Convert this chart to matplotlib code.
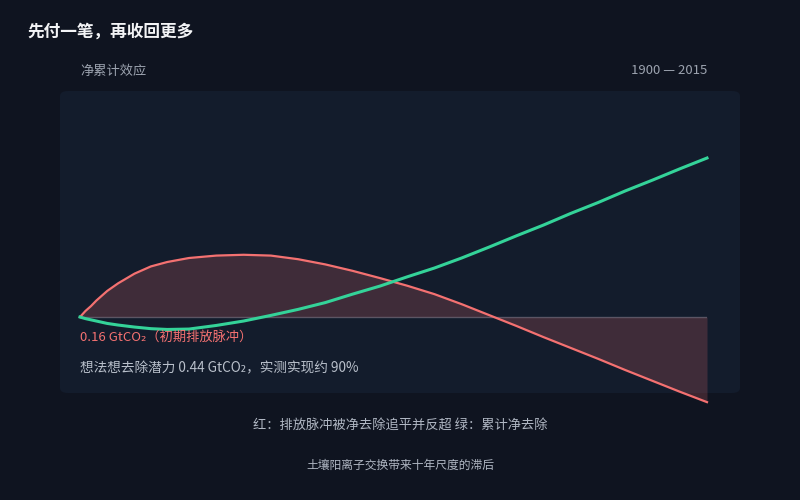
import numpy as np
import matplotlib.pyplot as plt
from matplotlib.patches import FancyBboxPatch

plt.rcParams['font.family'] = ['Noto Sans CJK SC', 'DejaVu Sans']

# data (GtCO2)
years = [1900, 1901, 1902, 1903, 1905, 1907, 1910, 1913, 1916, 1920, 1925, 1930, 1935, 1940,
         1945, 1950, 1955, 1960, 1965, 1970, 1975, 1980, 1985, 1990, 1995, 2000, 2005, 2010, 2015]
net_pulse = [0.0, 0.015, 0.027, 0.041, 0.065, 0.084, 0.108, 0.126, 0.137, 0.147, 0.153, 0.155,
             0.153, 0.144, 0.131, 0.115, 0.097, 0.078, 0.057, 0.032, 0.005, -0.022, -0.050,
             -0.077, -0.104, -0.132, -0.159, -0.186, -0.212]
cum_removal = [0.0, -0.004, -0.007, -0.010, -0.016, -0.020, -0.025, -0.029, -0.031, -0.030,
               -0.021, -0.010, 0.004, 0.019, 0.036, 0.057, 0.077, 0.100, 0.122, 0.147, 0.174,
               0.202, 0.229, 0.258, 0.285, 0.314, 0.341, 0.369, 0.396]

bg = '#0f1420'
panel = '#131c2c'
red = '#f47171'
green = '#34d399'
muted = '#9ca3af'

fig = plt.figure(figsize=(8, 5), dpi=100, facecolor=bg)

# panel behind the plot
fig.patches.append(FancyBboxPatch((60 / 800, 1 - 393 / 500), 680 / 800, 302 / 500,
                                  boxstyle='round,pad=0,rounding_size=0.01',
                                  transform=fig.transFigure, facecolor=panel,
                                  edgecolor='none', zorder=-1))

ax = fig.add_axes([80 / 800, 1 - 420 / 500, 627 / 800, 290 / 500])
ax.set_zorder(1)
ax.set_facecolor('none')
ax.set_xlim(1900, 2015)
ax.set_ylim(-0.2565, 0.4658)
ax.axis('off')

x = np.array(years)
r = np.array(net_pulse)
g = np.array(cum_removal)

ax.plot([1900, 2015], [0, 0], color='#4b5263', lw=1, zorder=1)
ax.fill_between(x, r, 0, color=red, alpha=0.2, lw=0, zorder=1)
ax.plot(x, r, color=red, lw=1.6, zorder=3, clip_on=False, solid_joinstyle='round')
ax.plot(x, g, color=green, lw=2.2, zorder=4, clip_on=False, solid_joinstyle='round')

fig.text(27 / 800, 1 - 32 / 500, '先付一笔，再收回更多', color='#f3f4f6', fontsize=12,
         fontweight='bold', va='center', ha='left')
fig.text(80 / 800, 1 - 71 / 500, '净累计效应', color=muted, fontsize=9.5, va='center')
fig.text(707 / 800, 1 - 71 / 500, '1900 — 2015', color=muted, fontsize=9.5, va='center', ha='right')

fig.text(80 / 800, 1 - 337 / 500, '0.16 GtCO₂（初期排放脉冲）', color=red, fontsize=9.5, va='center')
fig.text(80 / 800, 1 - 368 / 500, '想法想去除潜力 0.44 GtCO₂，实测实现约 90%', color='#b9c0cb',
         fontsize=9.8, va='center')

fig.text(0.5, 1 - 425 / 500, '红：排放脉冲被净去除追平并反超 绿：累计净去除', color='#b0b7c3',
         fontsize=9.5, va='center', ha='center')
fig.text(0.5, 1 - 465 / 500, '土壤阳离子交换带来十年尺度的滞后', color='#b0b7c3',
         fontsize=8.5, va='center', ha='center')

fig.savefig('out.png', dpi=100, facecolor=bg)
